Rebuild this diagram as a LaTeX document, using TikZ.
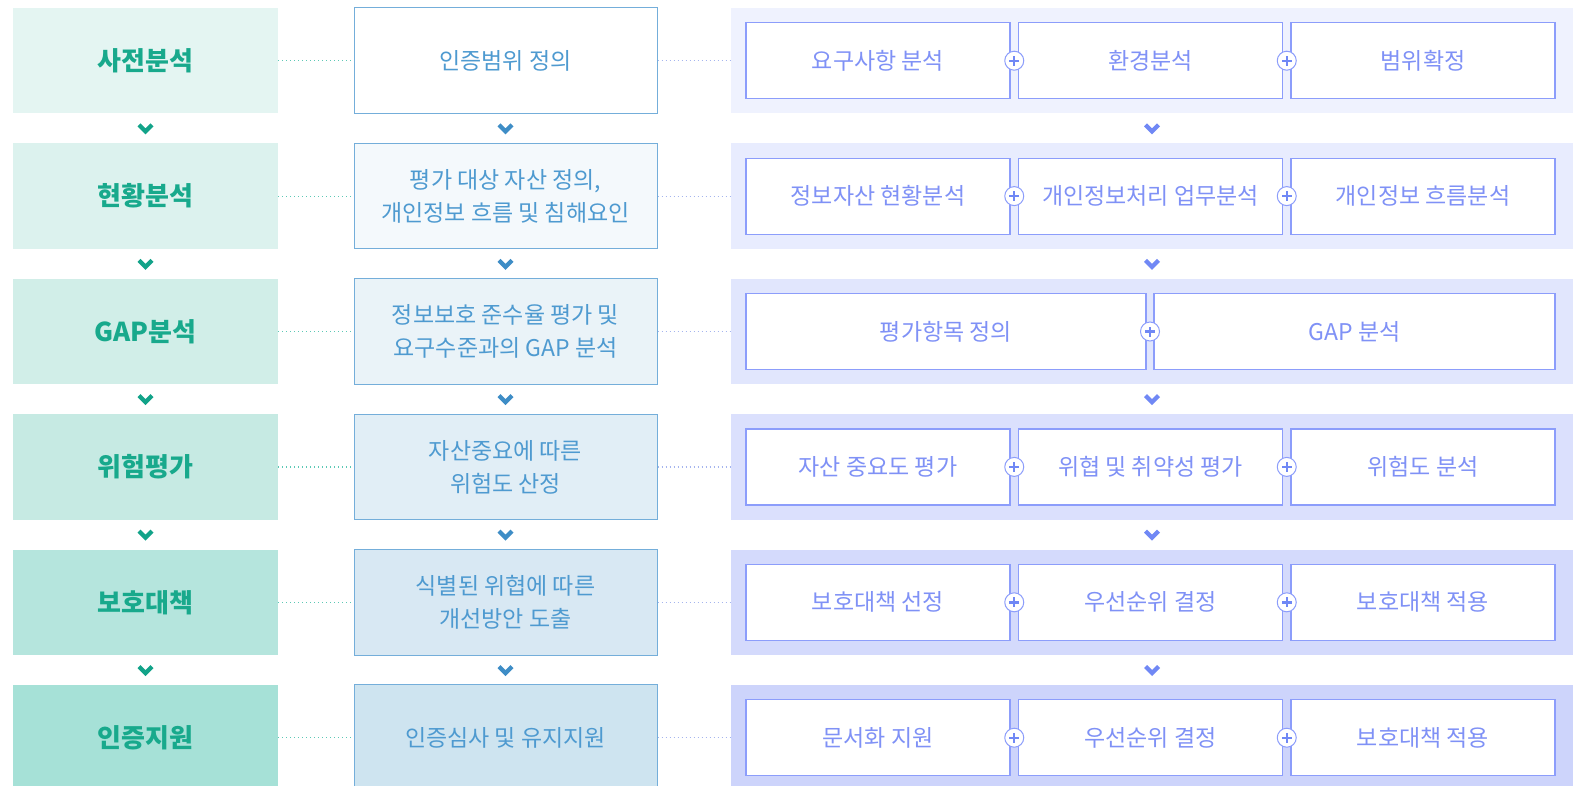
\documentclass[tikz,border=0pt]{standalone}
\usepackage{fontspec}
\setmainfont{Noto Sans CJK KR}
\usetikzlibrary{calc}
\definecolor{Lone}{HTML}{E4F5F2}
\definecolor{Ltwo}{HTML}{DCF2EE}
\definecolor{Lthree}{HTML}{D1EEE8}
\definecolor{Lfour}{HTML}{C6EAE3}
\definecolor{Lfive}{HTML}{B5E5DD}
\definecolor{Lsix}{HTML}{A6E1D7}
\definecolor{Mone}{HTML}{FFFFFF}
\definecolor{Mtwo}{HTML}{F4F9FC}
\definecolor{Mthree}{HTML}{EAF3F8}
\definecolor{Mfour}{HTML}{E1EEF6}
\definecolor{Mfive}{HTML}{D8E8F3}
\definecolor{Msix}{HTML}{CEE4F0}
\definecolor{Pone}{HTML}{EFF2FE}
\definecolor{Ptwo}{HTML}{E8ECFE}
\definecolor{Pthree}{HTML}{E1E6FD}
\definecolor{Pfour}{HTML}{DBE0FD}
\definecolor{Pfive}{HTML}{D4DAFC}
\definecolor{Psix}{HTML}{CDD4FB}
\definecolor{ltext}{HTML}{18A98C}
\definecolor{mtext}{HTML}{4E9AD0}
\definecolor{mborder}{HTML}{74AEDA}
\definecolor{rtext}{HTML}{7F91F6}
\definecolor{rborder}{HTML}{8C9DFB}
\definecolor{chevL}{HTML}{12A389}
\definecolor{chevM}{HTML}{3E8DC6}
\definecolor{chevR}{HTML}{7088F5}
\definecolor{dotL}{HTML}{5CC8B5}
\definecolor{dotR}{HTML}{A5B5EE}
\tikzset{
  leftbox/.style={rectangle, draw=none, minimum width=265pt, minimum height=105.5pt, inner sep=0pt, text=ltext, font=\fontsize{26}{32}\selectfont\bfseries},
  midbox/.style={rectangle, draw=mborder, line width=1pt, minimum width=303pt, minimum height=105.5pt, inner sep=0pt, text=mtext, align=center, font=\fontsize{23}{33}\selectfont},
  panelbox/.style={rectangle, draw=none, minimum width=842pt, minimum height=105.5pt, inner sep=0pt},
  subbox/.style={rectangle, draw=rborder, fill=white, line width=1.2pt, minimum height=76pt, inner sep=0pt, text=rtext, font=\fontsize{23}{28}\selectfont},
  plusnode/.style={circle, draw=rborder, fill=white, line width=1pt, minimum size=19pt, inner sep=0pt},
  dotleft/.style={draw=dotL, line width=1.2pt, dash pattern=on 1.2pt off 2.8pt},
  dotright/.style={draw=dotR, line width=1.2pt, dash pattern=on 1.2pt off 2.8pt},
  chev/.pic={\path[pic actions] (-8,-2) -- (-5,-5) -- (0,0) -- (5,-5) -- (8,-2) -- (0,6) -- cycle;},
  plusmark/.pic={\path[pic actions] (-5,-1.2) rectangle (5,1.2); \path[pic actions] (-1.2,-5) rectangle (1.2,5);}
}
\begin{document}
\begin{tikzpicture}[x=1pt,y=-1pt]
\useasboundingbox (0,0) rectangle (1575,785);
\clip (0,0) rectangle (1575,785);
\fill[white] (0,0) rectangle (1575,785);

% left column
\node[leftbox, fill=Lone]   (L1) at (145.5,60.7)  {사전분석};
\node[leftbox, fill=Ltwo]   (L2) at (145.5,196.1) {현황분석};
\node[leftbox, fill=Lthree] (L3) at (145.5,331.5) {GAP분석};
\node[leftbox, fill=Lfour]  (L4) at (145.5,466.9) {위험평가};
\node[leftbox, fill=Lfive]  (L5) at (145.5,602.3) {보호대책};
\node[leftbox, fill=Lsix]   (L6) at (145.5,737.7) {인증지원};

% middle column
\node[midbox, fill=Mone]   (M1) at (505.5,60.7)  {인증범위 정의};
\node[midbox, fill=Mtwo]   (M2) at (505.5,196.1) {평가 대상 자산 정의,\\개인정보 흐름 및 침해요인};
\node[midbox, fill=Mthree] (M3) at (505.5,331.5) {정보보호 준수율 평가 및\\요구수준과의 GAP 분석};
\node[midbox, fill=Mfour]  (M4) at (505.5,466.9) {자산중요에 따른\\위험도 산정};
\node[midbox, fill=Mfive]  (M5) at (505.5,602.3) {식별된 위협에 따른\\개선방안 도출};
\node[midbox, fill=Msix]   (M6) at (505.5,737.7) {인증심사 및 유지지원};

% right panels
\node[panelbox, fill=Pone]   (P1) at (1152,60.7)  {};
\node[panelbox, fill=Ptwo]   (P2) at (1152,196.1) {};
\node[panelbox, fill=Pthree] (P3) at (1152,331.5) {};
\node[panelbox, fill=Pfour]  (P4) at (1152,466.9) {};
\node[panelbox, fill=Pfive]  (P5) at (1152,602.3) {};
\node[panelbox, fill=Psix]   (P6) at (1152,737.7) {};

% dotted connectors
\foreach \i in {1,...,6}{
  \draw[dotleft] (L\i.east) -- (M\i.west);
  \draw[dotright] (M\i.east) -- (P\i.west);
}

% sub boxes
\node[subbox, minimum width=264pt] (R1a) at (878,60.7)    {요구사항 분석};
\node[subbox, minimum width=264pt] (R1b) at (1150.5,60.7) {환경분석};
\node[subbox, minimum width=264pt] (R1c) at (1423,60.7)   {범위확정};

\node[subbox, minimum width=264pt] (R2a) at (878,196.1)    {정보자산 현황분석};
\node[subbox, minimum width=264pt] (R2b) at (1150.5,196.1) {개인정보처리 업무분석};
\node[subbox, minimum width=264pt] (R2c) at (1423,196.1)   {개인정보 흐름분석};

\node[subbox, minimum width=400pt] (R3a) at (946,331.5)    {평가항목 정의};
\node[subbox, minimum width=401pt] (R3b) at (1354.5,331.5) {GAP 분석};

\node[subbox, minimum width=264pt] (R4a) at (878,466.9)    {자산 중요도 평가};
\node[subbox, minimum width=264pt] (R4b) at (1150.5,466.9) {위협 및 취약성 평가};
\node[subbox, minimum width=264pt] (R4c) at (1423,466.9)   {위험도 분석};

\node[subbox, minimum width=264pt] (R5a) at (878,602.3)    {보호대책 선정};
\node[subbox, minimum width=264pt] (R5b) at (1150.5,602.3) {우선순위 결정};
\node[subbox, minimum width=264pt] (R5c) at (1423,602.3)   {보호대책 적용};

\node[subbox, minimum width=264pt] (R6a) at (878,737.7)    {문서화 지원};
\node[subbox, minimum width=264pt] (R6b) at (1150.5,737.7) {우선순위 결정};
\node[subbox, minimum width=264pt] (R6c) at (1423,737.7)   {보호대책 적용};

% plus markers
\foreach \r in {1,2,4,5,6}{
  \node[plusnode] (X\r a) at ($(R\r a.east)!0.5!(R\r b.west)$) {};
  \pic[fill=chevR] at (X\r a) {plusmark};
  \node[plusnode] (X\r b) at ($(R\r b.east)!0.5!(R\r c.west)$) {};
  \pic[fill=chevR] at (X\r b) {plusmark};
}
\node[plusnode] (X3a) at ($(R3a.east)!0.5!(R3b.west)$) {};
\pic[fill=chevR] at (X3a) {plusmark};

% chevrons between rows
\foreach \i/\j in {1/2,2/3,3/4,4/5,5/6}{
  \pic[fill=chevL] at ($(L\i.south)!0.5!(L\j.north)$) {chev};
  \pic[fill=chevM] at ($(M\i.south)!0.5!(M\j.north)$) {chev};
  \pic[fill=chevR] at ($(P\i.south)!0.5!(P\j.north)$) {chev};
}
\end{tikzpicture}
\end{document}
